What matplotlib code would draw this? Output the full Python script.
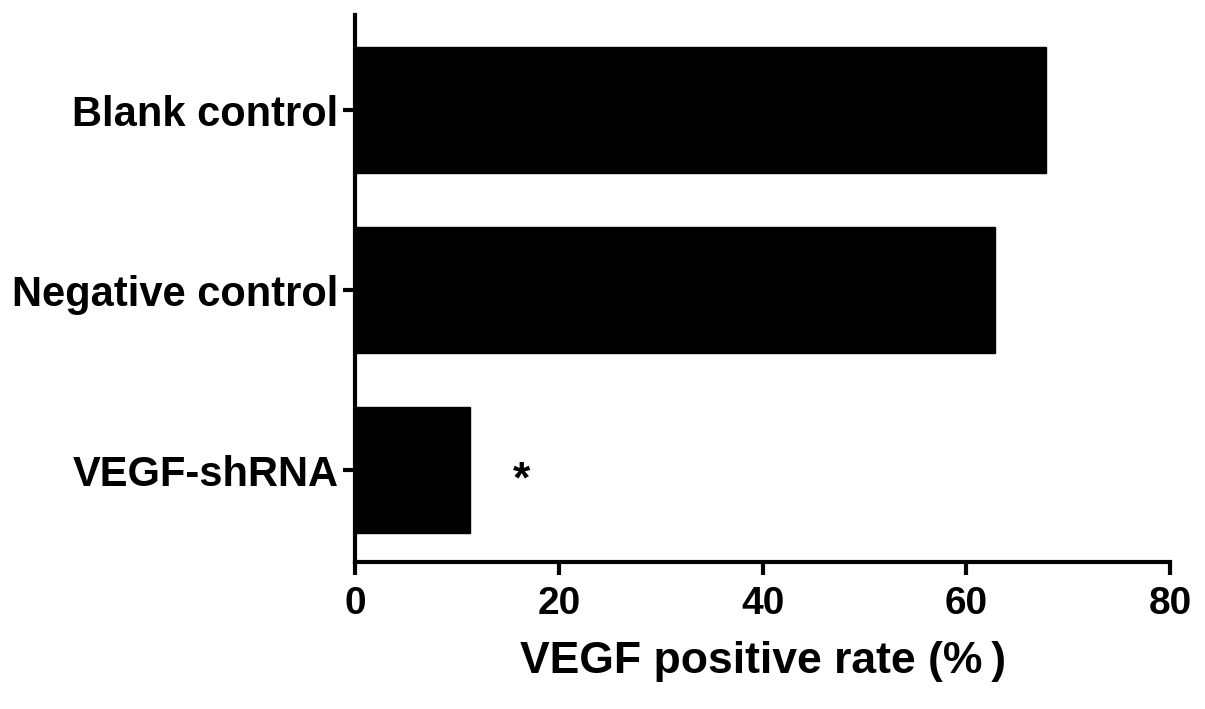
import matplotlib.pyplot as plt

# data
groups = ['VEGF-shRNA', 'Negative control', 'Blank control']
rates = [11.3, 62.8, 67.8]
xticks = [0, 20, 40, 60, 80]

plt.rcParams['font.family'] = ['Liberation Sans', 'DejaVu Sans']
plt.rcParams['font.weight'] = 'bold'

fig = plt.figure(figsize=(12.05, 7.09), dpi=100)
ax = fig.add_axes([0.2946, 0.2073, 0.6765, 0.7717])

ypos = list(range(len(groups)))
ax.barh(ypos, rates, height=0.7, color='black', edgecolor='black')

# significance mark next to the shRNA bar
ax.text(16.3, ypos[0] - 0.06, '*', fontsize=32, fontweight='bold', ha='center', va='center')

ax.set_xlim(0, 80)
ax.set_ylim(-0.51, 2.53)
ax.set_xticks(xticks)
ax.set_yticks(ypos)
ax.set_yticklabels(groups, fontsize=30)

for s in ['top', 'right']:
    ax.spines[s].set_visible(False)
for s in ['left', 'bottom']:
    ax.spines[s].set_linewidth(3)
ax.spines['bottom'].set_bounds(0, 80)

ax.tick_params(axis='both', width=3, length=9)
ax.tick_params(axis='x', labelsize=28, pad=8)
ax.tick_params(axis='y', pad=3)
ax.set_xlabel('VEGF positive rate (%\u2009)', fontsize=32, fontweight='bold', labelpad=14)

fig.savefig('out.png', dpi=100)
